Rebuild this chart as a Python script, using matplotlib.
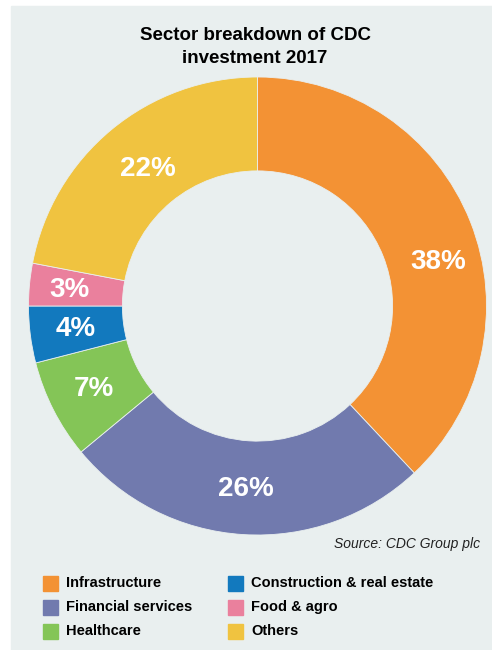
import matplotlib as mpl
mpl.use('Agg')
import matplotlib.pyplot as plt  # noqa
from matplotlib.patches import Rectangle  # noqa

sectors = ['Infrastructure', 'Financial services', 'Healthcare',
           'Construction & real estate', 'Food & agro', 'Others']
shares = [38, 26, 7, 4, 3, 22]
colors = ['#f39234', '#717aae', '#84c557', '#1279be', '#ea809d', '#f0c340']

bg = '#e9efef'
W, H = 492, 650
FONT = ['Liberation Sans', 'DejaVu Sans']

fig = plt.figure(figsize=(W / 100, H / 100), dpi=100)
fig.patches.append(Rectangle((11 / W, 0), 1 - 11 / W, 1 - 6 / H,
                             transform=fig.transFigure, color=bg, zorder=-5))

# donut
cx, cy, r = 257.5, 306, 229
ax = fig.add_axes([(cx - r) / W, (H - cy - r) / H, 2 * r / W, 2 * r / H])
wedges, _, autotexts = ax.pie(
    shares, colors=colors, startangle=90, counterclock=False,
    radius=1, autopct='%d%%', pctdistance=0.8,
    wedgeprops=dict(width=0.41, edgecolor=bg, linewidth=0.6),
    textprops=dict(color='white', fontsize=20, fontweight='bold',
                   family=FONT))
# a few labels are nudged in the original
autotexts[0].set_position((0.79, 0.19))
autotexts[4].set_position((-0.82, 0.07))
autotexts[5].set_position((-0.48, 0.60))
ax.set_xlim(-1, 1)
ax.set_ylim(-1, 1)
ax.set_aspect('equal')
ax.axis('off')

fig.text(255 / W, 1 - 47 / H, 'Sector breakdown of CDC\ninvestment 2017',
         ha='center', va='center', fontsize=13.5, fontweight='bold',
         family=FONT, linespacing=1.45)
fig.text(480 / W, 1 - 544 / H, 'Source: CDC Group plc', ha='right',
         va='center', fontsize=10, style='italic', family=FONT,
         color='#222222')

# legend, two columns of three
for i in range(len(sectors)):
    col, row = divmod(i, 3)
    x0 = 43 + col * 185
    y0 = 583 + row * 24
    fig.patches.append(Rectangle((x0 / W, 1 - (y0 + 7.5) / H), 15 / W, 15 / H,
                                 transform=fig.transFigure,
                                 color=colors[i], zorder=2))
    fig.text((x0 + 23) / W, 1 - y0 / H, sectors[i], ha='left', va='center',
             fontsize=10.5, fontweight='bold', family=FONT)

fig.savefig('out.png', dpi=100, facecolor='white')
